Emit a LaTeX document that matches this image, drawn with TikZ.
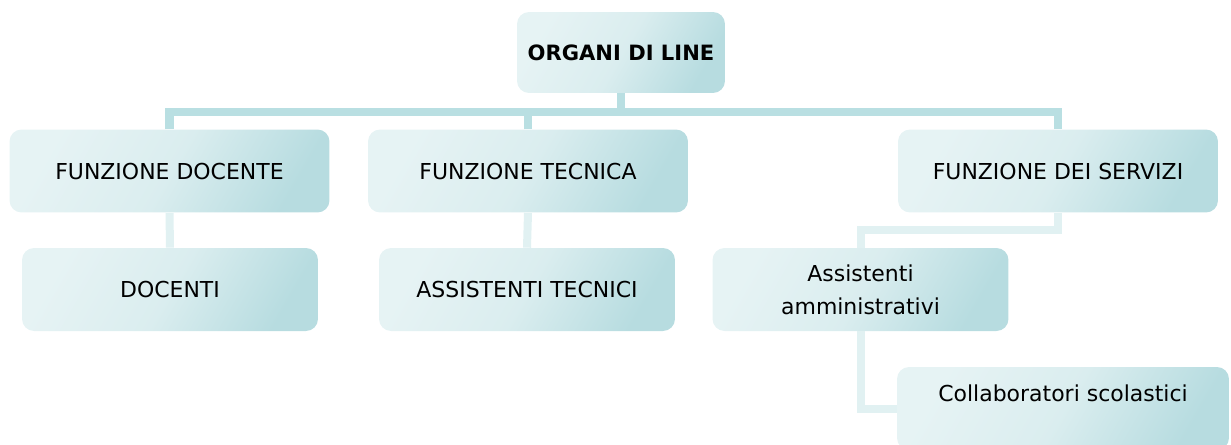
\documentclass[tikz,border=0pt]{standalone}
\usepackage{fontspec}
\setmainfont{DejaVu Sans}
\definecolor{boxlight}{HTML}{E6F3F4}
\definecolor{boxdark}{HTML}{B7DCE0}
\definecolor{linkdark}{HTML}{B9DFE2}
\definecolor{linklight}{HTML}{E1F1F2}
\tikzset{
  unit/.style={rounded corners=0.24cm, left color=boxlight, right color=boxdark,
    middle color=boxlight!75!boxdark, shading angle=60, align=center, inner sep=0pt,
    font=\fontsize{12.5}{18.7}\selectfont},
  topunit/.style={unit, minimum width=4.16cm, minimum height=1.62cm,
    font=\fontsize{12}{14}\selectfont\bfseries},
  midunit/.style={unit, minimum width=6.4cm, minimum height=1.66cm},
  lowunit/.style={unit, minimum width=5.92cm, minimum height=1.66cm},
  mainlink/.style={draw=linkdark, line width=0.17cm},
  sublink/.style={draw=linklight, line width=0.16cm}
}
\begin{document}
\begin{tikzpicture}[x=0.02cm, y=-0.02cm]
\useasboundingbox (0,0) rectangle (1231,444);
\node[topunit] (organi) at (621,52.5){ORGANI DI LINE};
\node[midunit] (docente) at (169.5,171){FUNZIONE DOCENTE};
\node[midunit] (tecnica) at (528,171){FUNZIONE TECNICA};
\node[midunit] (servizi) at (1058,171){FUNZIONE DEI SERVIZI};
\node[lowunit] (docenti) at (170,289.5){DOCENTI};
\node[lowunit] (asstec) at (527,289.5){ASSISTENTI TECNICI};
\node[lowunit] (assamm) at (860.5,289.5){Assistenti\\amministrativi};
\node[unit, minimum width=6.64cm, minimum height=1.66cm, text depth=17.5pt]
  (collab) at (1063,408.5){Collaboratori scolastici};
\coordinate (bar) at (0,112);
\coordinate (elbow) at (0,230);

\draw[mainlink] (organi.south)--(organi.south |- bar);
\draw[mainlink] (docente.north) |- (servizi.north |- bar)--(servizi.north);
\draw[mainlink] (tecnica.north)--(tecnica.north |- bar);

\draw[sublink] (docente.south)--(docenti.north);
\draw[sublink] (tecnica.south)--(asstec.north);
\draw[sublink] (servizi.south)--(servizi.south |- elbow) -| (assamm.north);
\draw[sublink] (assamm.south) |- (collab.west);
\end{tikzpicture}
\end{document}
